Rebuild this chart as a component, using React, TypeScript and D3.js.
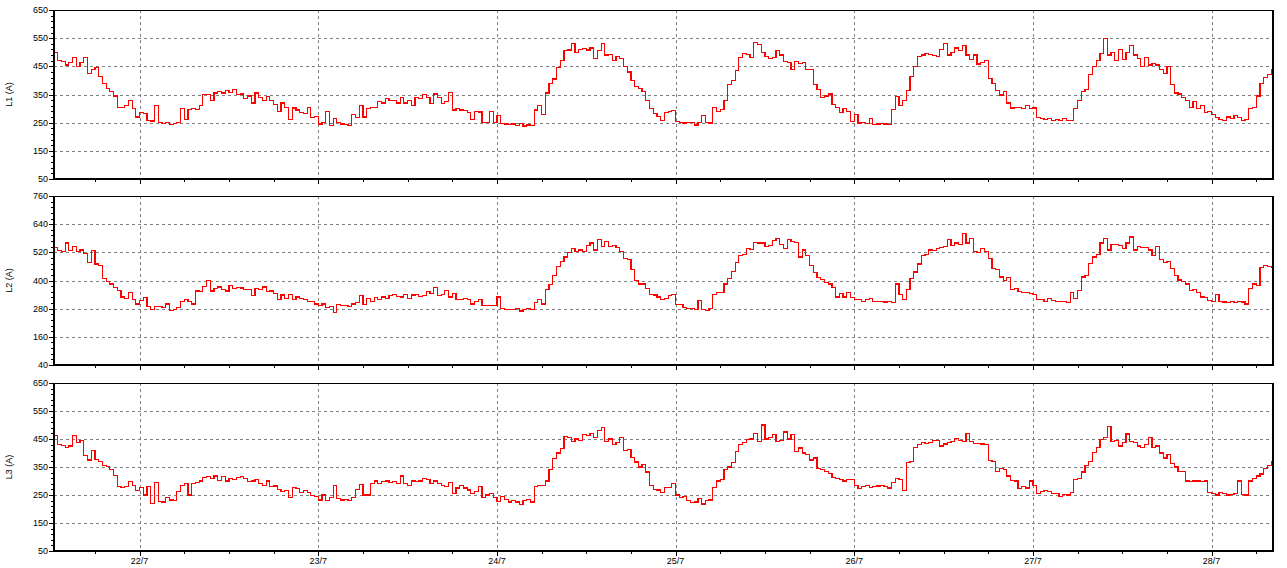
import React from "react";
import * as d3 from "d3";

// 30-minute readings starting 21/7 12:30
const L1 = [
  500,472,468,455,465,480,450,465,480,425,
  440,445,415,390,372,362,345,305,305,310,
  330,300,270,285,282,258,256,310,250,248,
  252,244,246,250,300,262,296,300,298,310,
  350,350,330,355,360,355,365,358,368,350,
  352,335,345,320,355,340,330,342,328,315,
  290,320,305,260,302,295,285,282,305,268,
  272,245,252,290,240,265,250,245,243,240,
  280,268,310,270,300,305,305,325,320,335,
  328,330,320,340,320,330,312,340,335,350,
  340,318,352,340,318,325,357,295,300,295,
  292,285,262,290,288,252,252,290,250,275,
  248,245,243,245,240,248,238,242,240,295,
  312,280,355,390,405,445,470,505,508,530,
  500,510,512,508,515,478,505,530,490,492,
  470,485,478,450,430,400,378,370,360,330,
  300,282,272,258,285,290,292,255,250,249,
  252,250,242,250,275,250,249,305,290,298,
  330,385,400,435,480,495,492,480,535,528,
  500,485,478,480,505,490,468,465,440,468,
  460,465,440,440,385,368,340,345,352,315,
  305,285,300,290,255,278,249,250,248,265,
  243,245,246,245,243,297,343,310,330,365,
  415,450,485,490,495,492,488,485,510,532,
  490,500,515,505,525,490,475,490,458,465,
  470,408,390,365,348,362,320,302,303,305,
  300,310,300,302,267,265,262,265,258,262,
  258,265,258,258,300,330,360,368,420,450,
  470,495,550,490,500,470,510,475,500,525,
  490,478,448,480,455,460,455,440,425,450,
  385,355,352,340,330,305,325,300,310,285,
  290,280,268,262,258,270,265,275,268,258,
  260,300,305,345,390,410,420,440,
];

const L2 = [
  540,528,525,560,528,545,522,530,515,478,
  528,470,465,410,395,385,370,358,330,325,
  350,320,300,315,326,290,278,288,290,285,
  300,272,278,285,310,318,312,300,355,352,
  375,400,355,365,372,362,355,378,365,370,
  368,360,362,335,365,360,372,352,355,345,
  320,338,325,340,318,330,322,318,312,310,
  300,295,300,286,290,265,298,292,293,290,
  300,305,335,298,325,312,328,320,330,325,
  335,340,332,330,342,325,338,340,332,335,
  352,345,370,335,340,358,330,345,320,318,
  322,320,300,310,318,292,295,293,295,330,
  280,278,278,276,280,270,278,282,276,305,
  320,300,360,382,422,460,480,500,520,535,
  525,530,525,548,560,530,575,545,565,545,
  550,540,522,495,490,448,400,385,385,365,
  342,338,330,318,325,335,342,297,298,284,
  280,280,278,316,278,272,280,340,348,350,
  385,410,440,478,505,510,538,532,562,560,
  560,545,550,570,578,555,535,575,565,562,
  500,530,505,465,435,412,405,390,385,370,
  330,345,330,350,328,320,318,312,318,322,
  312,310,312,308,312,306,385,340,318,360,
  410,436,470,508,510,530,528,535,542,545,
  575,550,560,552,600,560,580,525,520,535,
  525,495,450,448,415,400,412,360,365,352,
  348,350,345,340,320,318,312,322,316,312,
  310,310,306,350,325,356,415,420,472,500,
  510,560,580,530,555,555,548,535,560,585,
  530,545,540,542,530,505,545,490,475,482,
  450,420,402,395,385,358,360,350,330,328,
  315,312,340,310,308,306,310,305,312,308,
  300,365,385,380,455,465,460,455,
];

const L3 = [
  462,430,428,420,425,462,438,445,390,375,
  410,378,370,355,352,340,320,280,276,280,
  298,285,265,277,250,280,220,295,228,225,
  242,232,230,262,285,290,250,290,295,300,
  312,315,310,318,302,315,300,308,305,312,
  315,310,298,300,305,290,285,300,280,282,
  270,262,265,240,278,272,260,265,258,248,
  245,232,250,230,240,285,238,232,235,230,
  240,270,288,250,250,290,300,292,298,300,
  295,298,290,318,292,285,300,298,300,310,
  305,290,300,292,285,280,295,255,275,285,
  275,268,255,262,280,240,250,255,240,228,
  245,235,225,230,225,215,230,235,225,280,
  285,285,300,340,380,400,415,458,455,440,
  450,445,465,462,470,455,480,490,440,450,
  430,438,455,410,412,385,368,350,360,332,
  285,270,268,258,277,278,290,250,242,244,
  230,222,225,238,218,230,232,277,300,305,
  340,350,365,405,430,438,448,450,470,440,
  500,450,455,465,440,445,475,450,465,405,
  418,400,395,375,382,345,340,335,328,312,
  310,305,300,305,305,285,274,280,285,278,
  280,282,285,280,275,295,310,305,265,365,
  370,420,430,438,435,438,445,445,425,432,
  438,440,452,445,440,470,440,435,435,432,
  430,372,370,335,345,340,318,302,300,272,
  280,275,300,283,255,262,265,262,256,255,
  245,252,250,260,305,310,332,355,370,402,
  420,448,455,495,440,445,425,438,468,440,
  438,425,420,430,456,420,425,400,382,395,
  362,350,335,335,300,298,300,300,298,300,
  260,255,250,260,255,250,252,255,300,252,
  250,300,310,318,325,345,355,370,
];

const L1_TICKS = [50, 150, 250, 350, 450, 550, 650];
const L2_TICKS = [40, 160, 280, 400, 520, 640, 760];
const L3_TICKS = [50, 150, 250, 350, 450, 550, 650];
const SERIES_NAMES = ["L1 (A)", "L2 (A)", "L3 (A)"];

const START = new Date(2023, 6, 21, 12, 30);
const END = new Date(2023, 6, 28, 8, 15);
const STEP_MS = 30 * 60 * 1000;

const FONT = "'Liberation Sans', Arial, sans-serif";

export default function App() {
  const W = 1287;
  const H = 568;
  const x0 = 54;
  const x1 = 1273;
  const x = d3.scaleTime().domain([START, END]).range([x0, x1]);

  const panels = [
    { label: SERIES_NAMES[0], data: L1, ticks: L1_TICKS, minor: 20, top: 10, bottom: 179 },
    { label: SERIES_NAMES[1], data: L2, ticks: L2_TICKS, minor: 24, top: 196, bottom: 365 },
    { label: SERIES_NAMES[2], data: L3, ticks: L3_TICKS, minor: 20, top: 383, bottom: 551 },
  ];

  const days = d3.timeDay.range(d3.timeDay.ceil(START), END);
  const sixH = (d3.timeHour.every(6) as d3.TimeInterval).range(START, END);
  const fmt = d3.timeFormat("%-d/%-m");

  return (
    <div style={{ position: "absolute", left: 0, top: 0 }}>
      <svg width={W} height={H} style={{ display: "block", background: "#fff" }}>
        <rect x={0} y={0} width={W} height={H} fill="#fff" />
        {panels.map((p, pi) => {
          const lo = p.ticks[0];
          const hi = p.ticks[p.ticks.length - 1];
          const y = d3.scaleLinear().domain([lo, hi]).range([p.bottom, p.top]);
          const pts: [Date, number][] = p.data.map((v, i) => [new Date(START.getTime() + i * STEP_MS), v]);
          pts.push([END, p.data[p.data.length - 1]]);
          const line = d3
            .line<[Date, number]>()
            .x((d) => x(d[0]))
            .y((d) => y(d[1]))
            .curve(d3.curveStepAfter);
          const minorTicks = d3.range(lo, hi + 0.001, p.minor);
          const isLast = pi === panels.length - 1;
          return (
            <g key={pi}>
              {/* horizontal grid */}
              {p.ticks.slice(1, -1).map((t) => (
                <line
                  key={"h" + t}
                  x1={x0}
                  x2={x1}
                  y1={Math.round(y(t)) + 0.5}
                  y2={Math.round(y(t)) + 0.5}
                  stroke="#808080"
                  strokeWidth={1}
                  strokeDasharray="3,3"
                />
              ))}
              {/* vertical grid at days */}
              {days.map((d, i) => (
                <line
                  key={"v" + i}
                  x1={Math.round(x(d)) + 0.5}
                  x2={Math.round(x(d)) + 0.5}
                  y1={p.top}
                  y2={p.bottom}
                  stroke="#808080"
                  strokeWidth={1}
                  strokeDasharray="3,3"
                />
              ))}
              {/* data */}
              <path d={line(pts) || ""} fill="none" stroke="#ff0000" strokeWidth={1.2} shapeRendering="crispEdges" />
              {/* frame */}
              <line x1={x0} x2={x1 + 1} y1={p.top + 0.5} y2={p.top + 0.5} stroke="#000" strokeWidth={1} />
              <line x1={x0} x2={x0} y1={p.top} y2={p.bottom + 1} stroke="#000" strokeWidth={2} />
              <line x1={x1} x2={x1} y1={p.top} y2={p.bottom + 1} stroke="#000" strokeWidth={2} />
              <line x1={x0 - 1} x2={x1 + 1} y1={p.bottom} y2={p.bottom} stroke="#000" strokeWidth={2} />
              {/* y ticks */}
              {minorTicks.map((t) => {
                const major = p.ticks.includes(Math.round(t));
                const yy = Math.round(y(t)) + 0.5;
                return (
                  <line key={"yt" + t} x1={x0 - (major ? 5 : 3)} x2={x0 - 1} y1={yy} y2={yy} stroke="#000" strokeWidth={1} />
                );
              })}
              {p.ticks.map((t) => (
                <text
                  key={"yl" + t}
                  x={48}
                  y={y(t)}
                  dy="0.35em"
                  textAnchor="end"
                  fontFamily={FONT}
                  fontSize={9}
                  fill="#000"
                >
                  {t}
                </text>
              ))}
              {/* x ticks */}
              {sixH.map((d, i) => {
                const major = d.getHours() === 0;
                const xx = Math.round(x(d)) + 0.5;
                return (
                  <line key={"xt" + i} x1={xx} x2={xx} y1={p.bottom + 1} y2={p.bottom + (major ? 5 : 3)} stroke="#000" strokeWidth={1} />
                );
              })}
              {isLast &&
                days.map((d, i) => (
                  <text key={"xl" + i} x={x(d)} y={564} textAnchor="middle" fontFamily={FONT} fontSize={9} fill="#000">
                    {fmt(d)}
                  </text>
                ))}
              {/* y title */}
              <text
                transform={`translate(12, ${(p.top + p.bottom) / 2}) rotate(-90)`}
                textAnchor="middle"
                fontFamily={FONT}
                fontSize={9}
                fill="#000"
              >
                {p.label}
              </text>
            </g>
          );
        })}
      </svg>
    </div>
  );
}
